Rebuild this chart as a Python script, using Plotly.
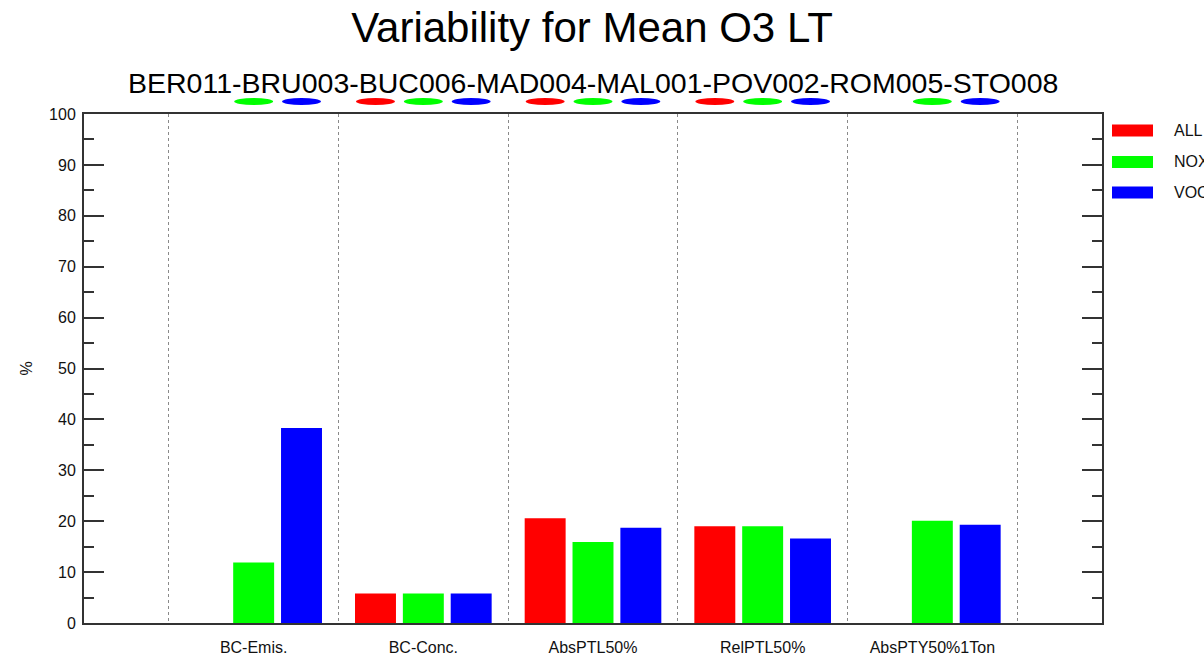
import plotly.graph_objects as go

# ---------------- data ----------------
categories = ["BC-Emis.", "BC-Conc.", "AbsPTL50%", "RelPTL50%", "AbsPTY50%1Ton"]
series_names = ["ALL", "NOX", "VOC"]
series_colors = ["#FF0000", "#00FF00", "#0000FF"]
all_values = [None, 5.8, 20.6, 19.0, None]
nox_values = [11.9, 5.8, 15.9, 19.0, 20.1]
voc_values = [38.3, 5.8, 18.7, 16.6, 19.3]
y_ticks = [0, 10, 20, 30, 40, 50, 60, 70, 80, 90, 100]
title_text = "Variability for Mean O3 LT"
subtitle_text = "BER011-BRU003-BUC006-MAD004-MAL001-POV002-ROM005-STO008"

series_values = [all_values, nox_values, voc_values]

# ---------------- layout constants ----------------
W, H = 1204, 657
ML, MR, MT, MB = 84, 102, 114, 34
PW, PH = W - ML - MR, H - MT - MB
BARGAP = 0.154
BARGROUPGAP = 0.144
FONT = "Liberation Sans, Arial, Helvetica, sans-serif"
AXIS_COLOR = "#333333"

xpos = list(range(1, len(categories) + 1))

fig = go.Figure()
for name, vals, col in zip(series_names, series_values, series_colors):
    fig.add_trace(go.Bar(
        x=xpos, y=vals, name=name,
        marker=dict(color=col, line=dict(width=0)),
        showlegend=False,
    ))

def px_to_paper_y(py):
    return 1 + (MT - py) / PH

def px_to_paper_x(pxv):
    return (pxv - ML) / PW

shapes = []
annotations = []

# ellipse markers above the plot showing which series exist per category
pitch = (1 - BARGAP) / len(series_names)
ell_w = pitch * (1 - BARGROUPGAP) * 0.95
ell_yc = px_to_paper_y(101.5)
ell_hh = 3.5 / PH
for j, vals in enumerate(series_values):
    off = (j - (len(series_names) - 1) / 2) * pitch
    for i, v in enumerate(vals):
        if v is None:
            continue
        xc = xpos[i] + off
        shapes.append(dict(type="circle", xref="x", yref="paper",
                           x0=xc - ell_w / 2, x1=xc + ell_w / 2,
                           y0=ell_yc - ell_hh, y1=ell_yc + ell_hh,
                           fillcolor=series_colors[j], line=dict(width=0),
                           layer="above"))

# custom legend at the right
leg_centers = [130.5, 162.0, 192.5]
for name, col, cy in zip(series_names, series_colors, leg_centers):
    yc = px_to_paper_y(cy)
    hh = 6 / PH
    shapes.append(dict(type="rect", xref="paper", yref="paper",
                       x0=px_to_paper_x(1112), x1=px_to_paper_x(1153),
                       y0=yc - hh, y1=yc + hh,
                       fillcolor=col, line=dict(width=0)))
    annotations.append(dict(text=name, xref="paper", yref="paper",
                            x=px_to_paper_x(1172), y=yc,
                            xanchor="left", yanchor="middle", showarrow=False,
                            font=dict(family=FONT, size=16, color="#111111")))

# subtitle
annotations.append(dict(text=subtitle_text, xref="paper", yref="paper",
                        x=px_to_paper_x(593), y=px_to_paper_y(83),
                        xanchor="center", yanchor="middle", showarrow=False,
                        font=dict(family=FONT, size=28.5, color="#000000")))

fig.update_layout(
    width=W, height=H,
    margin=dict(l=ML, r=MR, t=MT, b=MB, autoexpand=False),
    paper_bgcolor="white", plot_bgcolor="white",
    barmode="group", bargap=BARGAP, bargroupgap=BARGROUPGAP,
    title=dict(text=title_text, x=592 / W,
               xanchor="center", xref="container",
               y=1 - 27 / H, yref="container", yanchor="middle",
               font=dict(family=FONT, size=42, color="#000000")),
    shapes=shapes,
    annotations=annotations,
    font=dict(family=FONT, color="#111111"),
)

fig.update_xaxes(
    range=[0, len(categories) + 1],
    tickvals=xpos, ticktext=categories,
    ticks="", ticklen=0,
    tickfont=dict(family=FONT, size=16, color="#111111"),
    ticklabelstandoff=9,
    showline=True, linecolor=AXIS_COLOR, linewidth=2, mirror=True,
    showgrid=False, zeroline=False,
    minor=dict(tickvals=[x + 0.5 for x in range(0, len(categories) + 1)],
               showgrid=True, gridcolor="#8a8a8a", griddash="dot",
               gridwidth=1, ticks=""),
)

fig.update_yaxes(
    range=[0, 100],
    tickvals=y_ticks,
    ticks="inside", ticklen=20, tickwidth=2, tickcolor=AXIS_COLOR,
    minor=dict(dtick=5, ticks="inside", ticklen=10, tickwidth=2,
               tickcolor=AXIS_COLOR, showgrid=False),
    tickfont=dict(family=FONT, size=16, color="#111111"),
    ticklabelstandoff=3,
    showline=True, linecolor=AXIS_COLOR, linewidth=2, mirror="ticks",
    showgrid=False, zeroline=False,
    title=dict(text="%", font=dict(family=FONT, size=16, color="#111111"),
               standoff=12),
)

fig.write_html("out.html")
